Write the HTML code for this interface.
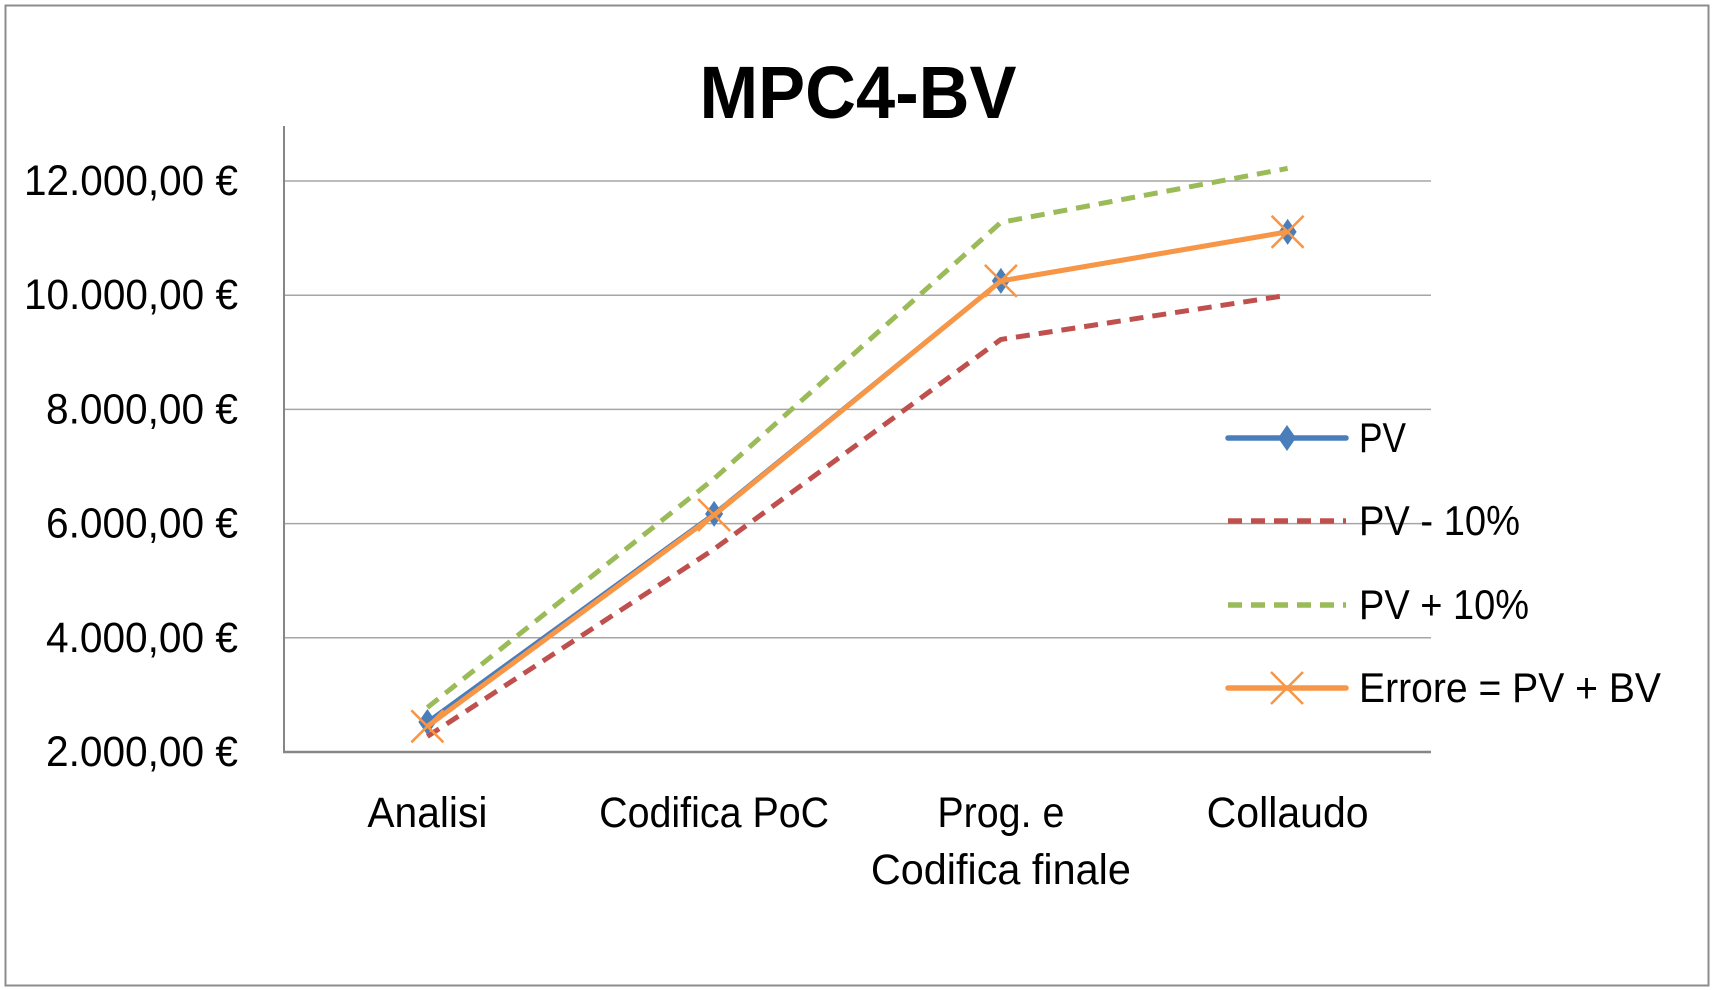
<!DOCTYPE html>
<html><head><meta charset="utf-8"><style>
html,body{margin:0;padding:0;background:#fff}
svg{display:block}
text{font-family:"Liberation Sans",sans-serif;fill:#000}
</style></head><body>
<svg id="chart" width="1714" height="990" viewBox="0 0 1714 990" xmlns="http://www.w3.org/2000/svg">
<rect x="5.5" y="5.5" width="1703" height="980" fill="#fff" stroke="#8c8c8c" stroke-width="2"/>
<text x="858" y="118" text-anchor="middle" font-size="74" font-weight="bold" textLength="317" lengthAdjust="spacingAndGlyphs">MPC4-BV</text>
<g id="grid"></g><g id="axes"></g><g id="series"></g><g id="legend"></g>
</svg>
<script>
const categories = [["Analisi"],["Codifica PoC"],["Prog. e","Codifica finale"],["Collaudo"]];
const catWidths = [[120],[230],[127,260],[162]];
const tickValues = [2000,4000,6000,8000,10000,12000];
const tickLabels = ["2.000,00 €","4.000,00 €","6.000,00 €","8.000,00 €","10.000,00 €","12.000,00 €"];
const pvValues = [2525,6170,10250,11110];
const pvMinusValues = [2272,5553,9225,10000];
const pvPlusValues = [2778,6787,11275,12221];
const erroreValues = [2450,6150,10250,11110];
const seriesNames = ["PV","PV - 10%","PV + 10%","Errore = PV + BV"];

const NS="http://www.w3.org/2000/svg";
const X0=284,X1=1431,Y2000=752,PXPER=114.2/2000;
function xPos(i){return X0+(X1-X0)/categories.length*(i+0.5);}
function yPos(v){return Y2000-(v-2000)*PXPER;}
function mk(tag,attrs,parent,txt){const e=document.createElementNS(NS,tag);for(const k in attrs)e.setAttribute(k,attrs[k]);if(txt!==undefined)e.textContent=txt;parent.appendChild(e);return e;}
const grid=document.getElementById('grid'),axes=document.getElementById('axes'),ser=document.getElementById('series'),leg=document.getElementById('legend');

tickValues.forEach((v,i)=>{
  if(i>0){const l=mk('line',{x1:X0,x2:X1,y1:yPos(v),y2:yPos(v),stroke:'#a6a6a6','stroke-width':1.5},grid);
  
  }
  const t=mk('text',{x:238,y:yPos(v)+14,'text-anchor':'end','font-size':43,textLength:(tickLabels[i].length>10?214:192),lengthAdjust:'spacingAndGlyphs'},axes,tickLabels[i]);
  
  
});
const ya=mk('line',{x1:X0,x2:X0,y1:126,y2:Y2000,stroke:'#868686','stroke-width':2},axes);


const xa=mk('line',{x1:X0-1,x2:X1,y1:Y2000,y2:Y2000,stroke:'#868686','stroke-width':2.5},axes);


categories.forEach((c,i)=>{
  c.forEach((ln,j)=>{
    const t=mk('text',{x:xPos(i),y:827+j*57,'text-anchor':'middle','font-size':43,textLength:catWidths[i][j],lengthAdjust:'spacingAndGlyphs'},axes,ln);
    
    
  });
});

function line(vals,color,width,dash,name){
  const pts=vals.map((v,i)=>xPos(i)+','+yPos(v)).join(' ');
  const p=mk('polyline',{points:pts,fill:'none',stroke:color,'stroke-width':width,'stroke-dasharray':dash||'none','stroke-linejoin':'round'},ser);
  
  
}
function diamond(x,y,parent){const d=mk('polygon',{points:`${x},${y-13} ${x+9},${y} ${x},${y+13} ${x-9},${y}`,fill:'#4a7ebb'},parent);
  
  }
function cross(x,y,parent){const g=mk('path',{d:`M${x-16},${y-16}L${x+16},${y+16}M${x+16},${y-16}L${x-16},${y+16}`,stroke:'#f79646','stroke-width':2.5,fill:'none'},parent);
  
  }

line(pvPlusValues,'#9bbb59',5,'14 9','series-pv-plus-10');
line(pvMinusValues,'#c0504d',5,'14 9','series-pv-minus-10');
line(pvValues,'#4a7ebb',4.5,null,'series-pv');
pvValues.forEach((v,i)=>diamond(xPos(i),yPos(v),ser));
line(erroreValues,'#f79646',5,null,'series-errore');
erroreValues.forEach((v,i)=>cross(xPos(i),yPos(v),ser));

const legY=[438,521,605,688];
const legW=[47,161,170,302];
const legStyles=[['#4a7ebb',null],['#c0504d','14 9'],['#9bbb59','14 9'],['#f79646',null]];
seriesNames.forEach((n,i)=>{
  const g=mk('g',{},leg);
  
  
  mk('line',{x1:1228,x2:1346,y1:legY[i],y2:legY[i],stroke:legStyles[i][0],'stroke-width':5.5,'stroke-dasharray':legStyles[i][1]||'none','stroke-linecap':legStyles[i][1]?'butt':'round'},g);
  if(i===0)diamond(1287,legY[i],g);
  if(i===3)cross(1287,legY[i],g);
  mk('text',{x:1359,y:legY[i]+14,'font-size':42,textLength:legW[i],lengthAdjust:'spacingAndGlyphs'},g,n);
});
</script>
</body></html>
